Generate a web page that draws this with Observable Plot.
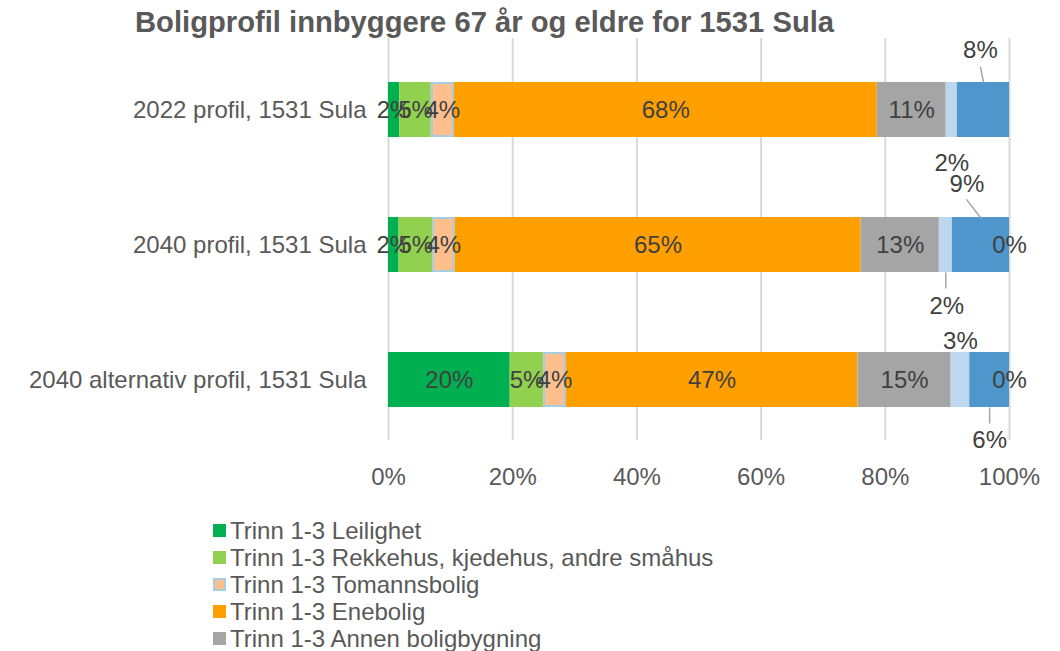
<!DOCTYPE html>
<html>
<head>
<meta charset="utf-8">
<script src="https://cdn.jsdelivr.net/npm/d3@7"></script>
<script src="https://cdn.jsdelivr.net/npm/@observablehq/plot@0.6"></script>
<style>
  html, body { margin: 0; padding: 0; background: #fff; overflow: hidden; }
  body { width: 1060px; height: 651px; position: relative; font-family: "Liberation Sans", Arial, sans-serif; color: #595959; }
  #title { position: absolute; left: 135px; top: 2px; font-size: 29.2px; font-weight: bold; line-height: 40px; color: #595959; white-space: nowrap; }
  #chart { position: absolute; left: 0; top: 36px; }
  #legend { position: absolute; left: 213px; top: 517px; font-size: 24px; line-height: 27px; color: #595959; }
  .item { display: flex; align-items: center; white-space: nowrap; height: 27px; }
  .sw { width: 13px; height: 13px; margin-right: 4px; box-sizing: border-box; flex: none; }
</style>
</head>
<body>
<div id="title">Boligprofil innbyggere 67 år og eldre for 1531 Sula</div>
<div id="chart"></div>
<div id="legend"></div>
<script>
// ---- data ----
const categories = ["2022 profil, 1531 Sula", "2040 profil, 1531 Sula", "2040 alternativ profil, 1531 Sula"];
const series = [
  "Trinn 1-3 Leilighet",
  "Trinn 1-3 Rekkehus, kjedehus, andre småhus",
  "Trinn 1-3 Tomannsbolig",
  "Trinn 1-3 Enebolig",
  "Trinn 1-3 Annen boligbygning",
  "Trinn 4-5 Leilighet",
  "Trinn 4-5 Småhus",
  "Trinn 4-5 Annen"
];
const leilighet    = [1.8, 1.7, 19.6];
const rekkehus     = [5.1, 5.4, 5.4];
const tomannsbolig = [3.7, 3.6, 3.6];
const enebolig     = [68.1, 65.4, 47.0];
const annen        = [11.1, 12.6, 15.0];
const serie6       = [1.8, 2.1, 3.0];
const serie7       = [8.4, 9.2, 6.4];
const serie8       = [null, 0, 0];
const xTicks = [0, 20, 40, 60, 80, 100];

const values = [leilighet, rekkehus, tomannsbolig, enebolig, annen, serie6, serie7, serie8];
const colors = ["#00B050", "#92D050", "#FFBF8C", "#FF9F00", "#A5A5A5", "#BDD7EE", "#4E96CB", "#2E6FA8"];

// build stacked table
const rows = [];
categories.forEach((cat, ci) => {
  let acc = 0;
  values.forEach((arr, si) => {
    const v = arr[ci];
    if (v == null) return;
    rows.push({cat, ci, series: series[si], si, value: v, x1: acc, x2: acc + v});
    acc += v;
  });
});
const mid = d => (d.x1 + d.x2) / 2;
const fmt = d => Math.round(d.value) + "%";

// ---- label layout (callouts placed outside the bar) ----
const callouts = [
  {ci: 0, si: 5, dx: 0,   dy: 53},
  {ci: 0, si: 6, dx: -3,  dy: -60, leader: {dy: -28, len: 15, rotate: -11}},
  {ci: 1, si: 6, dx: -14, dy: -61, leader: {dy: -27, len: 23, rotate: -38}},
  {ci: 1, si: 5, dx: 1,   dy: 61,  leader: {dy: 28, len: 15, rotate: 180}},
  {ci: 2, si: 5, dx: 0,   dy: -39},
  {ci: 2, si: 6, dx: 0,   dy: 60,  leader: {dy: 28, len: 15, rotate: 180}}
];
const isCallout = d => callouts.some(c => c.ci === d.ci && c.si === d.si);

const lineShape = { draw(context, l) { context.moveTo(0, 0); context.lineTo(0, -l); } };

const FS = 24;
const marks = [
  Plot.ruleX(xTicks, {stroke: "#d9d9d9", strokeWidth: 2}),
  Plot.barX(rows, {x1: "x1", x2: "x2", y: "cat", fill: "series"}),
  Plot.barX(rows.filter(d => d.si === 2), {x1: "x1", x2: "x2", y: "cat", fill: colors[2], stroke: "#A9CDE0", strokeWidth: 2, inset: 1}),
  Plot.text(rows.filter(d => !isCallout(d)), {x: mid, y: "cat", text: fmt, fill: "#404040", fontSize: FS})
];
callouts.forEach(c => {
  const sub = rows.filter(d => d.ci === c.ci && d.si === c.si);
  marks.push(Plot.text(sub, {x: mid, y: "cat", text: fmt, fill: "#404040", fontSize: FS, dx: c.dx, dy: c.dy}));
  if (c.leader) {
    marks.push(Plot.vector(sub, {x: mid, y: "cat", dy: c.leader.dy, length: c.leader.len, rotate: c.leader.rotate,
      anchor: "start", shape: lineShape, stroke: "#A6A6A6", strokeWidth: 1.5}));
  }
});
marks.push(
  Plot.axisX({ticks: xTicks, tickFormat: d => d + "%", tickSize: 0, tickPadding: 27, fontSize: FS, fill: "#595959", label: null}),
  Plot.axisY({tickSize: 0, tickPadding: 22, fontSize: FS, fill: "#595959", label: null})
);

const chart = Plot.plot({
  width: 1060,
  height: 460,
  marginLeft: 388,
  marginRight: 51,
  marginTop: 2,
  marginBottom: 56,
  style: {fontFamily: "'Liberation Sans', Arial, sans-serif", color: "#595959", background: "transparent", overflow: "visible"},
  x: {domain: [0, 100]},
  y: {domain: categories, range: [45, 371], paddingInner: 0.594, paddingOuter: 0},
  color: {domain: series, range: colors},
  marks
});
document.getElementById("chart").appendChild(chart);

// legend
const legend = document.getElementById("legend");
series.forEach((s, i) => {
  const item = document.createElement("div");
  item.className = "item";
  const sw = document.createElement("span");
  sw.className = "sw";
  sw.style.background = colors[i];
  if (i === 2) sw.style.border = "2px solid #A9CDE0";
  const t = document.createElement("span");
  t.textContent = s;
  item.appendChild(sw);
  item.appendChild(t);
  legend.appendChild(item);
});
</script>
</body>
</html>
